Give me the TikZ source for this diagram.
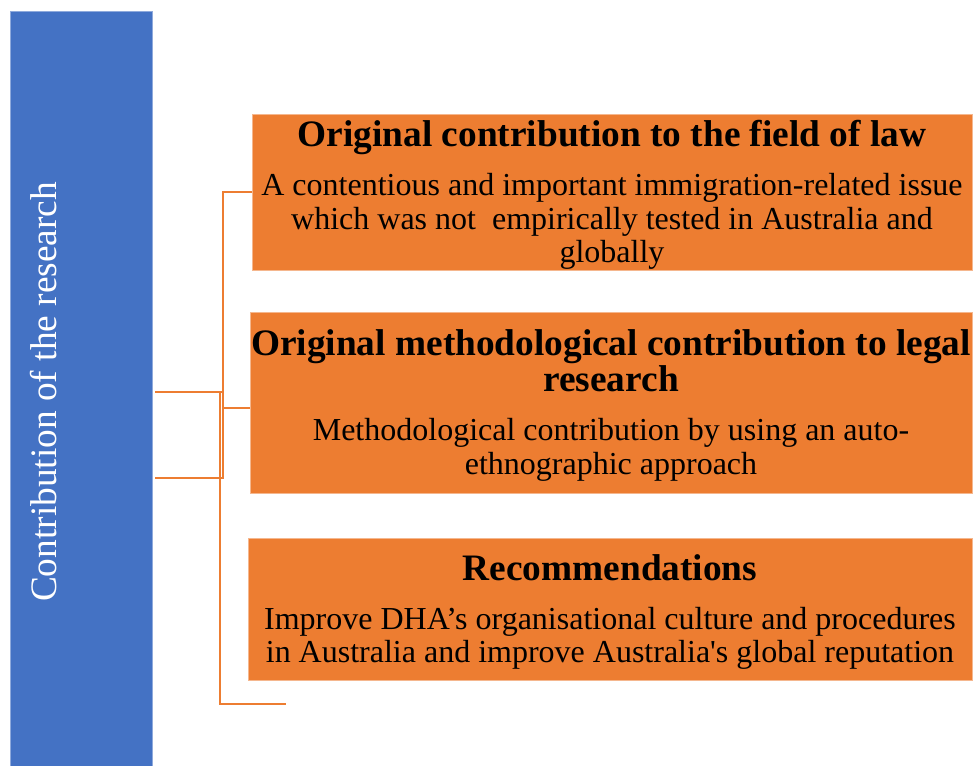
\documentclass[tikz,border=0pt]{standalone}
\usepackage{fontspec}
\setmainfont{Liberation Serif}
\usetikzlibrary{positioning}
\definecolor{barblue}{HTML}{4472C4}
\definecolor{boxorange}{HTML}{ED7D31}
\newcommand{\headfont}{\bfseries\fontsize{28}{29}\selectfont}
\newcommand{\headstrut}{\rule{0pt}{24pt}}
\begin{document}
\begin{tikzpicture}[x=0.75pt,y=-0.75pt,
  box/.style={fill=boxorange, draw=boxorange!55!white, line width=0.6pt, align=center,
    inner sep=0pt, font=\fontsize{24}{25}\selectfont},
  link/.style={draw=boxorange, line width=1.7pt}]
\useasboundingbox (0,0) rectangle (973,766);
% Balken links
\node (bar) [fill=barblue, draw=barblue!60!white, line width=0.6pt, anchor=north west,
  minimum width=106.5pt, minimum height=566.25pt, inner sep=0pt] at (10,11) {};
\node (bartext) [rotate=90, text=white, font=\fontsize{28}{30}\selectfont] at (44,392)
  {Contribution of the research};

% Kaesten
\node (b1) [box, minimum width=540pt, minimum height=117pt] at (612,192)
  {{\headfont\headstrut Original contribution to the field of law}\\[12pt]
   A contentious and important immigration-related issue\\
   which was not\ \ empirically tested in Australia and\\
   globally};
\node (b2) [box, minimum width=541.5pt, minimum height=135.75pt] at (611,402.5)
  {{\headfont\headstrut Original methodological contribution to legal}\\
   {\headfont research}\\[12pt]
   Methodological contribution by using an auto-\\
   ethnographic approach};
\node (b3) [box, minimum width=543pt, minimum height=106.5pt] at (610,609)
  {{\headfont\headstrut Recommendations}\\[12pt]
   Improve DHA’s organisational culture and procedures\\
   in Australia and improve Australia\textquotesingle s global reputation};

% Verbindungen
\coordinate (s1) at (155,392);
\coordinate (s2) at (155,478);
\coordinate (e3) at (286,704);
\draw[link] (s2) -| (223,192) -- (b1.west |- 0,192);
\draw[link] (s1) -- (223,392);
\draw[link] (223,408) -- (b2.west |- 0,408);
\draw[link] (220,392) |- (e3);
\end{tikzpicture}
\end{document}
